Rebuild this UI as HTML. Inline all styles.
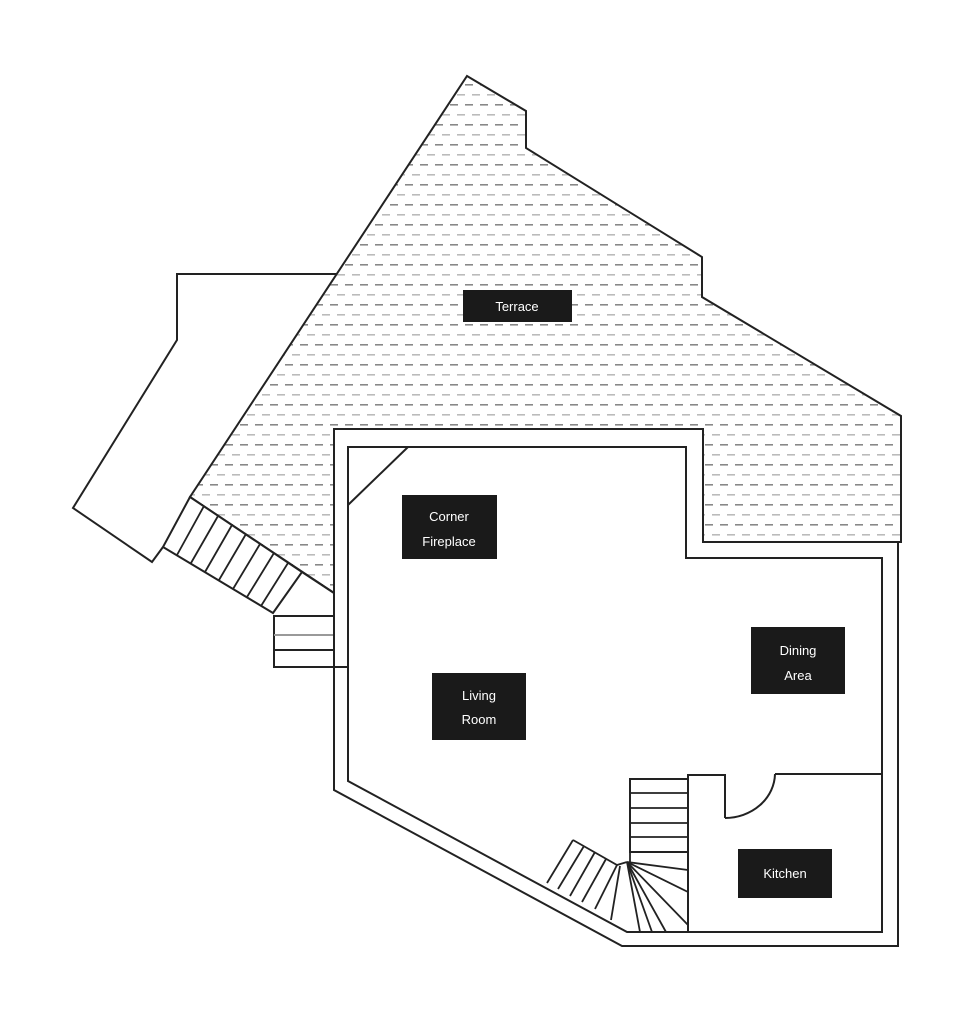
<!DOCTYPE html>
<html><head><meta charset="utf-8"><style>
html,body{margin:0;padding:0;background:#fff;}
svg{display:block}
text{font-family:"Liberation Sans",sans-serif;font-size:13px;fill:#fff;text-anchor:middle}
</style></head><body>
<svg width="972" height="1024" viewBox="0 0 972 1024" xmlns="http://www.w3.org/2000/svg">
<defs>
<pattern id="h" width="15" height="20" patternUnits="userSpaceOnUse">
<rect x="0" y="4" width="8" height="1.6" fill="#888"/>
<rect x="7" y="14" width="8" height="1.6" fill="#bbb"/>
</pattern>
</defs>
<g fill="none" stroke="#222" stroke-width="2">
<polygon fill="url(#h)" points="467,76 526,111 526,148 702,257 702,297 901,416 901,542 703,542 703,429 334,429 334,593 190,497"/>
<polyline points="337,274 177,274 177,340 73,508 152,562 163,547"/>
<polygon fill="#fff" points="190,497 302,572 273,613 163,547"/>
<g stroke-width="1.8">
<line x1="204" y1="506" x2="177" y2="555"/>
<line x1="218" y1="516" x2="191" y2="563"/>
<line x1="232" y1="525" x2="205" y2="572"/>
<line x1="246" y1="534" x2="219" y2="580"/>
<line x1="260" y1="544" x2="233" y2="589"/>
<line x1="274" y1="553" x2="247" y2="597"/>
<line x1="288" y1="563" x2="261" y2="606"/>
</g>
<line x1="302" y1="572" x2="334" y2="593"/>
<rect x="274" y="616" width="60" height="51" fill="#fff"/>
<line x1="274" y1="635" x2="334" y2="635" stroke="#999"/>
<line x1="274" y1="650" x2="334" y2="650"/>
<polyline points="334,429 334,790 622,946 898,946 898,542"/>
<polyline points="348,667 348,447 686,447 686,558 882,558 882,932 627,932 348,781 348,667"/>
<line x1="334" y1="667" x2="348" y2="667"/>
<line x1="348" y1="505" x2="408" y2="447"/>
<polyline points="688,932 688,775 725,775 725,818"/>
<path d="M725,818 A50,45 0 0 0 775,774"/>
<line x1="775" y1="774" x2="882" y2="774"/>
<rect x="630" y="779" width="58" height="73" fill="#fff"/>
<g stroke-width="1.8">
<line x1="630" y1="793" x2="688" y2="793"/>
<line x1="630" y1="808" x2="688" y2="808"/>
<line x1="630" y1="823" x2="688" y2="823"/>
<line x1="630" y1="837" x2="688" y2="837"/>
<line x1="627" y1="862" x2="688" y2="870"/>
<line x1="627" y1="862" x2="688" y2="892"/>
<line x1="627" y1="862" x2="688" y2="925"/>
<line x1="630" y1="852" x2="630" y2="862"/>
<line x1="627" y1="862" x2="666" y2="932"/>
<line x1="627" y1="862" x2="652" y2="932"/>
<line x1="627" y1="862" x2="640" y2="932"/>
<line x1="620" y1="866" x2="611" y2="920"/>
<polyline points="573,840 617,865 627,862"/>
<line x1="573" y1="840" x2="547" y2="883"/>
<line x1="584" y1="846" x2="558" y2="889"/>
<line x1="595" y1="852" x2="570" y2="896"/>
<line x1="606" y1="859" x2="582" y2="902"/>
<line x1="617" y1="865" x2="595" y2="909"/>
</g>
</g>
<rect x="463" y="290" width="109" height="32" fill="#1a1a1a"/>
<text x="517" y="311">Terrace</text>
<rect x="402" y="495" width="95" height="64" fill="#1a1a1a"/>
<text x="449" y="521">Corner</text><text x="449" y="546">Fireplace</text>
<rect x="432" y="673" width="94" height="67" fill="#1a1a1a"/>
<text x="479" y="700">Living</text><text x="479" y="724">Room</text>
<rect x="751" y="627" width="94" height="67" fill="#1a1a1a"/>
<text x="798" y="655">Dining</text><text x="798" y="680">Area</text>
<rect x="738" y="849" width="94" height="49" fill="#1a1a1a"/>
<text x="785" y="878">Kitchen</text>
</svg>
</body></html>
